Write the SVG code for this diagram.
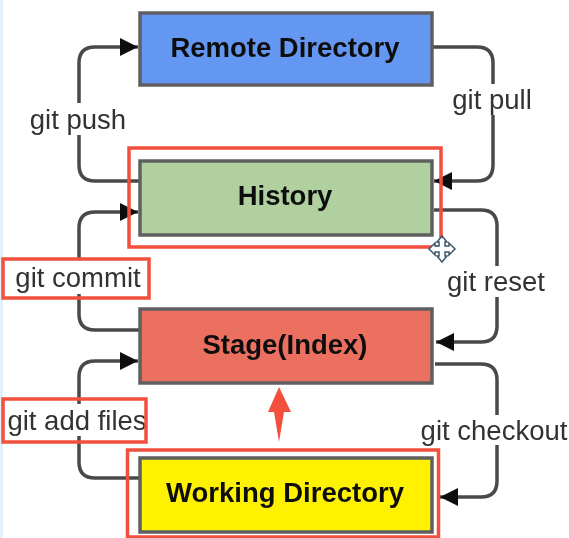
<svg xmlns="http://www.w3.org/2000/svg" width="569" height="538" viewBox="0 0 569 538">
<style>
.box{stroke:#5f5f5f;stroke-width:3.5}
.title{font:bold 27.500px "Liberation Sans",Arial,sans-serif;fill:#111;text-anchor:middle}
.label{font:27.500px "Liberation Sans",Arial,sans-serif;fill:#333;text-anchor:middle}
.line{fill:none;stroke:#4a4a4a;stroke-width:3.500}
.frame{fill:none;stroke:#f2503c;stroke-width:3.500}
</style>
<defs>
<filter id="soft" x="-5%" y="-5%" width="110%" height="110%"><feGaussianBlur stdDeviation="0.7"/></filter>
<marker id="head" markerUnits="userSpaceOnUse" markerWidth="20" markerHeight="20" refX="18" refY="9" orient="auto"><path d="M0 0L18 9L0 18Z" fill="#111"/></marker>
</defs>
<rect width="569" height="538" fill="#fff"/>
<rect width="3" height="538" fill="#e3f2fa"/>
<g filter="url(#soft)">
<g id="connectors">
<path class="line" d="M140 181H95Q79 181 79 165V135"/>
<path class="line" marker-end="url(#head)" d="M79 103V63Q79 47 95 47H138"/>
<path class="line" d="M140 330H95Q79 330 79 314V294"/>
<path class="line" marker-end="url(#head)" d="M79 258V228Q79 212 95 212H138"/>
<path class="line" d="M140 478H95Q79 478 79 462V436"/>
<path class="line" marker-end="url(#head)" d="M79 404V377Q79 361 95 361H138"/>
<path class="line" d="M432 47H477Q493 47 493 63V84"/>
<path class="line" marker-end="url(#head)" d="M493 115V165Q493 181 477 181H434"/>
<path class="line" d="M434 210H481Q497 210 497 226V266"/>
<path class="line" marker-end="url(#head)" d="M497 297V326Q497 342 481 342H436"/>
<path class="line" d="M435 364H481Q497 364 497 380V415"/>
<path class="line" marker-end="url(#head)" d="M497 445V481Q497 497 481 497H440"/>
</g>
<g id="remote"><rect class="box" x="140" y="13" width="292" height="72" fill="#6497f1"/><text class="title" x="285" y="57">Remote Directory</text></g>
<g id="history"><rect class="box" x="140" y="161" width="292" height="74" fill="#b0d0a0"/><text class="title" x="285" y="205">History</text></g>
<g id="stage"><rect class="box" x="140" y="309" width="292" height="74" fill="#ec6f60"/><text class="title" x="285" y="354">Stage(Index)</text></g>
<g id="working"><rect class="box" x="140" y="458" width="292" height="74" fill="#fff200"/><text class="title" x="285" y="502">Working Directory</text></g>
<g id="labels">
<text class="label" x="78" y="129">git push</text>
<text class="label" x="492" y="109">git pull</text>
<text class="label" x="78" y="287">git commit</text>
<text class="label" x="496" y="291">git reset</text>
<text class="label" x="77" y="430">git add files</text>
<text class="label" x="494" y="440">git checkout</text>
</g>
<g id="highlights">
<rect class="frame" x="129" y="148" width="312" height="99"/>
<rect class="frame" x="3" y="259" width="146" height="39"/>
<rect class="frame" x="3" y="399" width="143" height="43"/>
<rect class="frame" x="127.500" y="450" width="311" height="87"/>
<path d="M279 387L291 412H284L279 442L274 412H268Z" fill="#f2503c"/>
</g>
<g id="cursor" fill="#fff" stroke="#3d5a6c" stroke-width="1.500">
<path d="M442 236L447 242H445V246H449V243L455 249L449 255V252H445V256H447L442 262L437 256H439V252H435V255L429 249L435 243V246H439V242H437Z"/>
</g>
</g>
</svg>
